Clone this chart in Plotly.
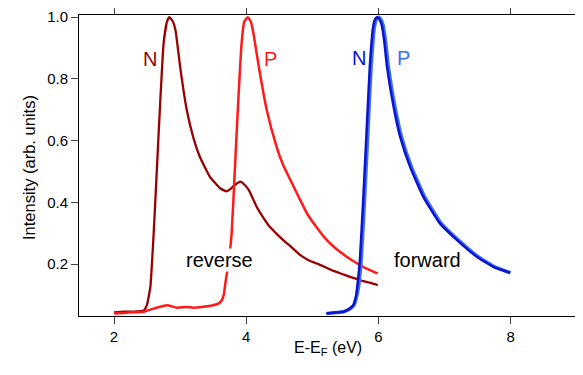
import plotly.graph_objects as go

# reverse N (dark red)
rev_n_x = [2.00, 2.15, 2.30, 2.45, 2.50, 2.55, 2.60, 2.65, 2.70, 2.75, 2.80, 2.836, 2.88, 2.93, 3.00,
           3.10, 3.20, 3.30, 3.45, 3.61, 3.70, 3.76, 3.81, 3.91, 3.97, 4.04, 4.16, 4.26, 4.36, 4.46,
           4.56, 4.70, 4.82, 4.95, 5.07, 5.20, 5.32, 5.45, 5.57, 5.67, 5.77, 5.88, 5.99]
rev_n_y = [0.044, 0.046, 0.046, 0.050, 0.070, 0.127, 0.300, 0.515, 0.730, 0.915, 0.985, 1.000, 0.990, 0.958, 0.840,
           0.700, 0.610, 0.547, 0.483, 0.445, 0.436, 0.443, 0.453, 0.467, 0.458, 0.440, 0.385, 0.350, 0.320, 0.298,
           0.278, 0.252, 0.229, 0.212, 0.202, 0.190, 0.178, 0.168, 0.159, 0.152, 0.145, 0.139, 0.132]

# reverse P (red)
rev_p_x = [2.00, 2.15, 2.30, 2.45, 2.60, 2.80, 2.95, 3.10, 3.20, 3.35, 3.50, 3.58, 3.63, 3.66, 3.69, 3.73,
           3.78, 3.83, 3.88, 3.93, 3.97, 4.025, 4.07, 4.11, 4.19, 4.31, 4.46, 4.56, 4.67, 4.80, 4.92,
           5.07, 5.22, 5.37, 5.52, 5.65, 5.77, 5.88, 5.99]
rev_p_y = [0.040, 0.042, 0.044, 0.046, 0.056, 0.067, 0.059, 0.061, 0.059, 0.062, 0.067, 0.072, 0.083, 0.100, 0.147, 0.200,
           0.300, 0.515, 0.730, 0.915, 0.985, 1.000, 0.985, 0.947, 0.840, 0.700, 0.580, 0.520, 0.472, 0.415, 0.364,
           0.318, 0.278, 0.248, 0.224, 0.206, 0.191, 0.180, 0.170]

# forward N (dark blue)
fwd_n_x = [5.21, 5.35, 5.47, 5.56, 5.62, 5.66, 5.68, 5.72, 5.77, 5.82, 5.87, 5.92, 5.95, 5.98, 6.01, 6.05, 6.09,
           6.13, 6.23, 6.33, 6.48, 6.68, 6.93, 7.19, 7.49, 7.74, 7.99]
fwd_n_y = [0.040, 0.043, 0.046, 0.055, 0.067, 0.095, 0.127, 0.213, 0.407, 0.623, 0.840, 0.968, 0.993, 1.000, 0.995, 0.975, 0.920,
           0.840, 0.710, 0.612, 0.515, 0.418, 0.332, 0.278, 0.224, 0.191, 0.172]

# forward P (light blue)
fwd_p_x = [5.22, 5.36, 5.48, 5.57, 5.63, 5.67, 5.70, 5.74, 5.79, 5.84, 5.89, 5.94, 5.97, 6.00, 6.03, 6.07, 6.11,
           6.15, 6.25, 6.35, 6.50, 6.70, 6.95, 7.21, 7.51, 7.76, 8.00]
fwd_p_y = fwd_n_y

x_ticks = [2, 4, 6, 8]
y_ticks = [0.2, 0.4, 0.6, 0.8, 1.0]
y_tick_text = ["0.2", "0.4", "0.6", "0.8", "1.0"]

labels = ["N", "P", "N", "P", "reverse", "forward"]
label_x = [2.54, 4.364, 5.70, 6.376, 3.596, 6.747]
label_y = [0.865, 0.865, 0.868, 0.868, 0.214, 0.214]
label_colors = ["#990000", "#ff1a1a", "#0a14c8", "#3d6cff", "black", "black"]

# page has an 8px body margin: figure size/margins compensate so plot area sits at x 79..578, y 15..316
OFF = 8
W, H = 583 - OFF, 375 - OFF
L, R, T, B = 79 - OFF, 5, 15 - OFF, H - (316 - OFF)

fig = go.Figure()
fig.add_trace(go.Scatter(x=rev_n_x, y=rev_n_y, mode="lines", line=dict(color="#990000", width=2.3, shape="spline", smoothing=0.4)))
fig.add_trace(go.Scatter(x=rev_p_x, y=rev_p_y, mode="lines", line=dict(color="#ff1a1a", width=2.5, shape="spline", smoothing=0.4)))
fig.add_trace(go.Scatter(x=fwd_p_x, y=fwd_p_y, mode="lines", line=dict(color="#3d6cff", width=3.5, shape="spline", smoothing=0.4)))
fig.add_trace(go.Scatter(x=fwd_n_x, y=fwd_n_y, mode="lines", line=dict(color="#0a14c8", width=2.5, shape="spline", smoothing=0.4)))

for t, x, y, c in zip(labels, label_x, label_y, label_colors):
    ann = dict(x=x, y=y, xref="x", yref="y", text=t, showarrow=False,
               font=dict(size=20, color=c))
    if t in ("reverse", "forward"):
        ann["bgcolor"] = "white"
        ann["borderpad"] = 0
    fig.add_annotation(**ann)

pw, ph = W - L - R, H - T - B


def px_to_paper(px, py):
    return (px - OFF - L) / pw, 1 - (py - OFF - T) / ph


tx, ty = px_to_paper(328, 360)
fig.add_annotation(x=tx, y=ty, xref="paper", yref="paper", text="E-E<sub>F</sub> (eV)",
                   showarrow=False, font=dict(size=16))
tx, ty = px_to_paper(18, 168)
fig.add_annotation(x=tx, y=ty, xref="paper", yref="paper", text="Intensity (arb. units)",
                   showarrow=False, textangle=-90, font=dict(size=16.5))

fig.update_layout(
    width=W, height=H,
    margin=dict(l=L, r=R, t=T, b=B, autoexpand=False),
    paper_bgcolor="white", plot_bgcolor="white",
    showlegend=False,
    font=dict(family="Liberation Sans, Arial, sans-serif", color="black"),
)

fig.update_xaxes(range=[1.47, 9.02], tickvals=x_ticks, ticktext=[str(v) for v in x_ticks],
                 showgrid=False, zeroline=False, showline=True, linecolor="black", linewidth=1,
                 mirror="ticks", ticks="outside", ticklen=7, tickcolor="#444", tickwidth=1,
                 tickfont=dict(size=15), automargin=False)
fig.update_yaxes(range=[0.032, 1.007], tickvals=y_ticks, ticktext=y_tick_text,
                 showgrid=False, zeroline=False, showline=True, linecolor="black", linewidth=1,
                 mirror="ticks", ticks="outside", ticklen=7, tickcolor="#444", tickwidth=1,
                 tickfont=dict(size=15), automargin=False)

fig.write_html("out.html")
